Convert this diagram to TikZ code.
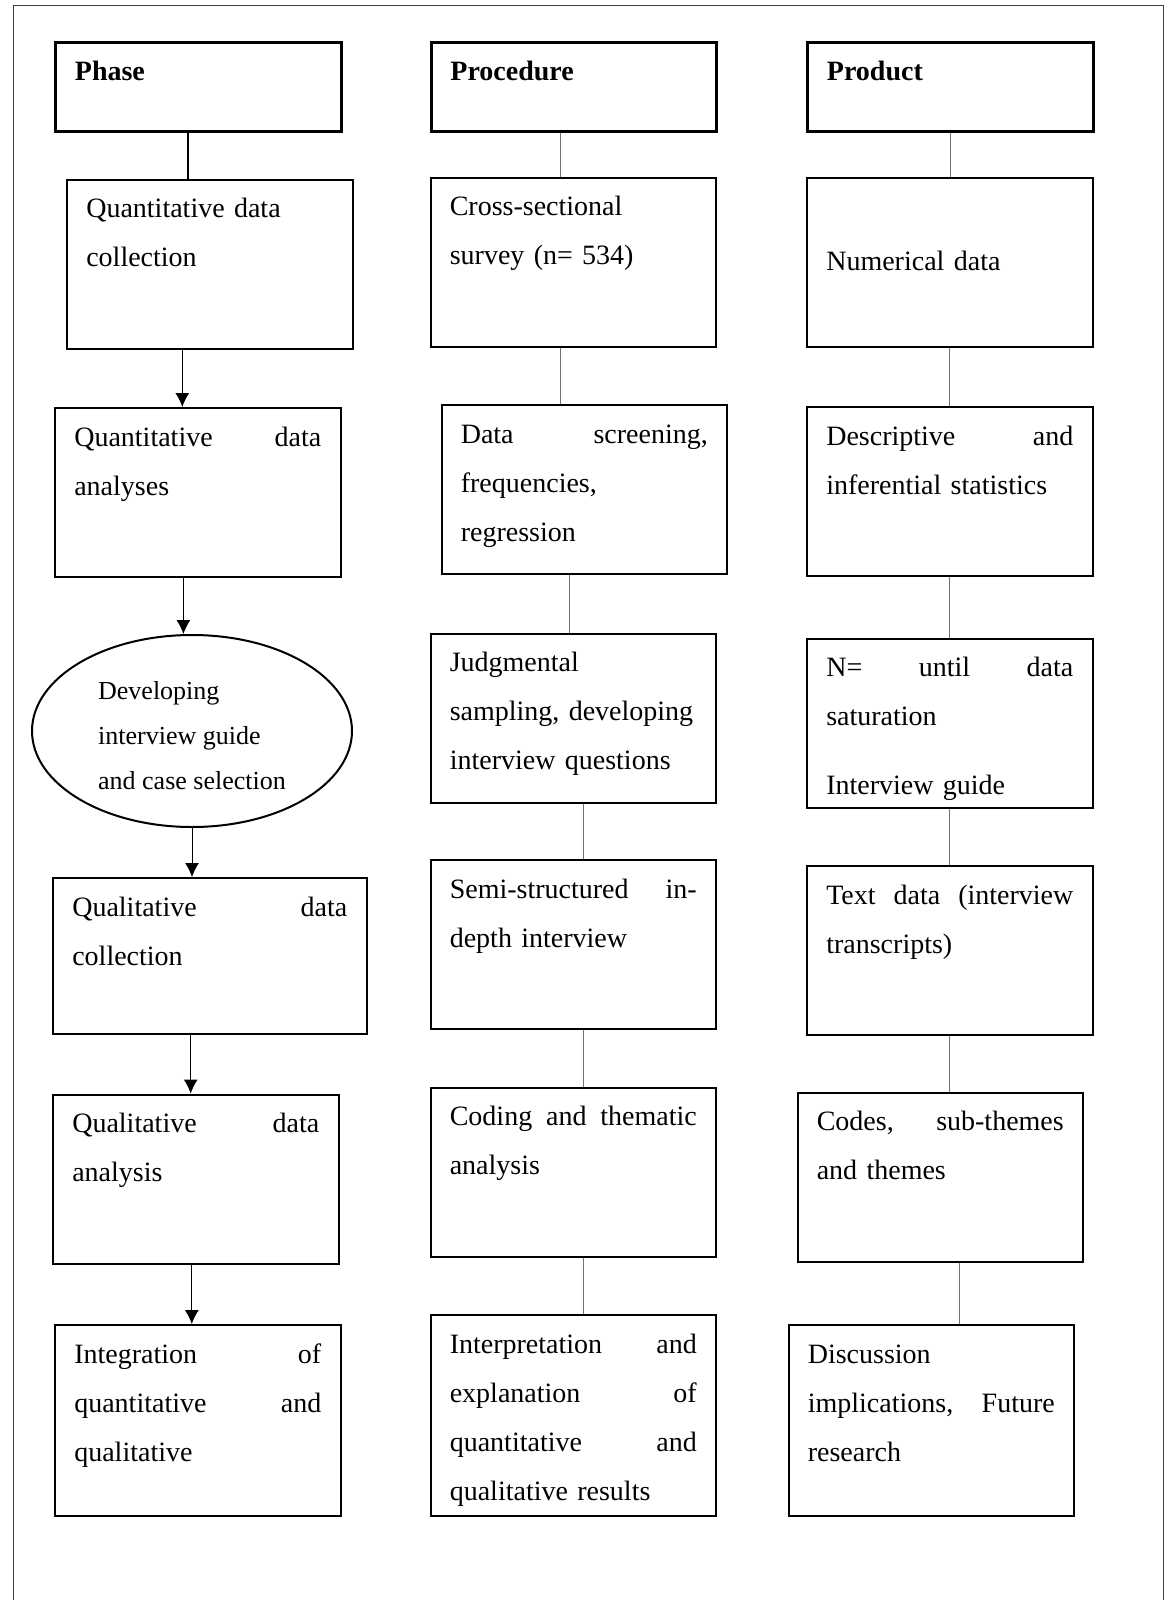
\documentclass[tikz,border=0pt]{standalone}
\usepackage{fontspec}
\setmainfont{Liberation Serif}
\usetikzlibrary{shapes.geometric, arrows.meta}
\newcommand{\cellfont}{\fontsize{14}{24.5}\selectfont}
\newcommand{\ovalfont}{\fontsize{13}{22.5}\selectfont}
\tikzstyle{cell} = [draw, line width=1pt, anchor=north west, text width=123.5pt, inner xsep=9.65pt, inner ysep=9pt, text height=10pt, text depth=56.5pt, font=\cellfont]
\tikzstyle{headcell} = [cell, line width=1.6pt, text depth=16.5pt, font=\cellfont\bfseries]
\tikzstyle{oval} = [draw, ellipse, line width=1pt, inner sep=1pt, minimum width=160pt, minimum height=96pt, align=left, text height=61pt, text depth=3pt, font=\ovalfont]
\tikzstyle{flow} = [line width=0.5pt, -{Latex[length=7pt,width=7pt]}]
\tikzstyle{link} = [line width=0.5pt, black!55]

\begin{document}
\begin{tikzpicture}[x=0.5pt,y=-0.5pt]

	\useasboundingbox (0,0) rectangle (1167,1600);
	\draw[line width=0.5pt, black!75] (13,1600) -- (13,6) -- (1163,6) -- (1163,1600);

	\node[headcell](phase) at (54,41) {Phase};
	\node[headcell](proc) at (429.5,41) {Procedure};
	\node[headcell](prod) at (806,41) {Product};

	\node[cell](qdc) at (66,178.5) {Quantitative data\\collection};
	\node[cell](survey) at (429.5,176.5) {Cross-sectional\\survey (n= 534)};
	\node[cell](numdata) at (806,176.5) {\mbox{}\\[3pt]Numerical data};

	\node[cell](qda) at (54,407) {Quantitative\hfill data\\analyses};
	\node[cell](screen) at (440.5,404) {Data\hfill screening,\\frequencies,\\regression};
	\node[cell](stats) at (806,406) {Descriptive\hfill and\\inferential statistics};

	\node[oval](guide) at (192,731) {Developing\\interview guide\\and case selection};
	\node[cell](sampling) at (429.5,632.5) {Judgmental\\sampling, developing\\interview questions};
	\node[cell](saturation) at (806,637.5) {N=\hfill until\hfill data\\saturation\\[10pt]Interview guide};

	\node[cell,text width=137.5pt,text depth=50pt](qlc) at (52,877) {Qualitative\hfill data\hspace*{14pt}\\collection};
	\node[cell](interview) at (429.5,859) {Semi-structured\hfill in-\\depth interview};
	\node[cell](transcripts) at (806,865) {Text\hfill data\hfill (interview\\transcripts)};

	\node[cell](qla) at (52,1093.5) {Qualitative\hfill data\\analysis};
	\node[cell](coding) at (429.5,1086.5) {Coding\hfill and\hfill thematic\\analysis};
	\node[cell](themes) at (796.5,1091.5) {Codes,\hfill sub-themes\\and themes};

	\node[cell,text depth=67.5pt](integration) at (54,1324) {Integration\hfill of\\quantitative\hfill and\\qualitative};
	\node[cell,text depth=72.5pt](interpret) at (429.5,1314) {Interpretation\hfill and\\explanation\hfill of\\quantitative\hfill and\\qualitative results};
	\node[cell,text depth=67.5pt](discussion) at (787.5,1324) {Discussion\\implications,\hfill Future\\research};

	\draw[line width=1pt] ([xshift=-5pt]phase.south) -- ([xshift=-5pt]phase.south |- qdc.north);
	\draw[flow] ([xshift=-13.75pt]qdc.south) -- ([xshift=-13.75pt]qdc.south |- qda.north);
	\draw[flow] ([xshift=-7.2pt]qda.south) -- ([xshift=-7.2pt]qda.south |- guide.north);
	\draw[flow] (guide.south) -- (guide.south |- qlc.north);
	\draw[flow] ([xshift=-9.55pt]qlc.south) -- ([xshift=-9.55pt]qlc.south |- qla.north);
	\draw[flow] ([xshift=-2pt]qla.south) -- ([xshift=-2pt]qla.south |- integration.north);

	\draw[link] ([xshift=-6.65pt]proc.south) -- ([xshift=-6.65pt]proc.south |- survey.north);
	\draw[link] ([xshift=-6.65pt]survey.south) -- ([xshift=-6.65pt]survey.south |- screen.north);
	\draw[link] ([xshift=-7.65pt]screen.south) -- ([xshift=-7.65pt]screen.south |- sampling.north);
	\draw[link] ([xshift=5.1pt]sampling.south) -- ([xshift=5.1pt]sampling.south |- interview.north);
	\draw[link] ([xshift=5.1pt]interview.south) -- ([xshift=5.1pt]interview.south |- coding.north);
	\draw[link] ([xshift=5.1pt]coding.south) -- ([xshift=5.1pt]coding.south |- interpret.north);

	\draw[link] (prod.south) -- (prod.south |- numdata.north);
	\draw[link] (numdata.south) -- (numdata.south |- stats.north);
	\draw[link] (stats.south) -- (stats.south |- saturation.north);
	\draw[link] (saturation.south) -- (saturation.south |- transcripts.north);
	\draw[link] (transcripts.south) -- (transcripts.south |- themes.north);
	\draw[link] ([xshift=9.7pt]themes.south) -- ([xshift=9.7pt]themes.south |- discussion.north);

\end{tikzpicture}
\end{document}
